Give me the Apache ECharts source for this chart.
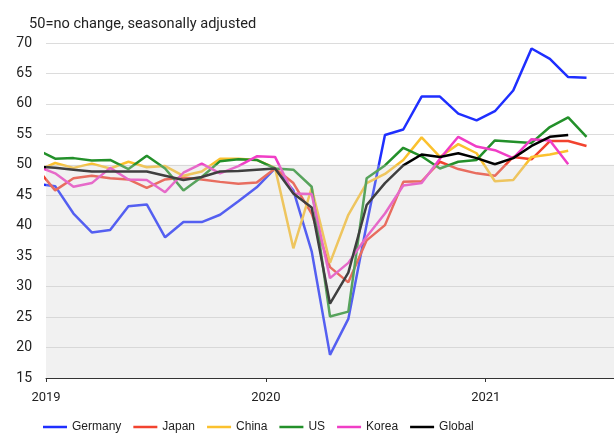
<!DOCTYPE html>
<html>
<head>
<meta charset="utf-8">
<script src="https://cdn.jsdelivr.net/npm/echarts@6/dist/echarts.min.js"></script>
<style>
  html, body { margin: 0; padding: 0; background: #fff; }
  #chart { width: 614px; height: 434px; }
</style>
</head>
<body>
<div id="chart"></div>
<script>
// months from Dec 2018 (index -1) to Jun 2021 (index 29), plotted mid-month
const startMonth = -1;
const yearLabels = ['2019', '2020', '2021'];

const germany = [46.9,
  46.5, 42.0, 38.9, 39.3, 43.2, 43.5, 38.1, 40.6, 40.6, 41.8, 44.0, 46.3,
  49.4, 45.8, 35.8, 18.8, 24.7, 40.2, 54.9, 55.8, 61.2, 61.2, 58.4, 57.3,
  58.8, 62.2, 69.1, 67.4, 64.4, 64.3];
const japan = [49.4,
  45.8, 47.8, 48.2, 47.8, 47.6, 46.2, 47.6, 47.9, 47.6, 47.2, 46.9, 47.1,
  49.4, 47.0, 42.0, 33.2, 30.7, 37.6, 40.1, 47.2, 47.3, 50.5, 49.3, 48.6,
  48.2, 51.3, 50.9, 53.9, 53.9, 53.1];
const china = [49.0,
  50.3, 49.5, 50.2, 49.4, 50.5, 49.6, 49.8, 48.2, 48.9, 51.0, 51.0, 50.8,
  49.5, 36.3, 46.2, 33.9, 41.8, 47.0, 48.5, 50.8, 54.5, 51.3, 53.4, 51.9,
  47.3, 47.5, 51.3, 51.7, 52.3, null];
const us = [52.5,
  51.0, 51.1, 50.7, 50.8, 49.3, 51.5, 49.4, 45.8, 48.0, 50.6, 50.9, 50.8,
  49.4, 49.2, 46.4, 25.1, 25.9, 47.8, 49.9, 52.8, 51.4, 49.4, 50.5, 50.8,
  54.0, 53.8, 53.6, 56.2, 57.8, 54.6];
const korea = [49.8,
  48.6, 46.4, 47.0, 49.5, 47.6, 47.5, 45.5, 48.7, 50.2, 48.6, 49.8, 51.4,
  51.3, 45.3, 45.2, 31.4, 33.9, 38.2, 42.0, 46.6, 47.0, 51.0, 54.6, 53.0,
  52.4, 51.1, 54.2, 54.0, 50.1, null];
const globalPmi = [49.7,
  49.5, 49.2, 48.9, 48.9, 48.9, 48.9, 48.2, 47.5, 48.0, 48.9, 49.0, 49.2,
  49.4, 45.3, 43.0, 27.2, 32.3, 43.4, 47.0, 49.9, 51.7, 51.3, 51.9, 51.1,
  50.1, 51.1, 53.1, 54.6, 54.9, null];

const seriesList = [
  { name: 'Germany', values: germany, color: '#1f2fff' },
  { name: 'Japan', values: japan, color: '#f2432f' },
  { name: 'China', values: china, color: '#fbc12e' },
  { name: 'US', values: us, color: '#23902a' },
  { name: 'Korea', values: korea, color: '#f03ec6' },
  { name: 'Global', values: globalPmi, color: '#000000' },
];

function toPoints(values) {
  return values.map((v, i) => [startMonth + i + 0.5, v]);
}

const chart = echarts.init(document.getElementById('chart'));
const font = 'Roboto, "Liberation Sans", sans-serif';

const series = seriesList.map((s) => ({
  name: s.name,
  type: 'line',
  data: toPoints(s.values),
  symbol: 'none',
  z: 2,
  lineStyle: { width: 2.5, color: s.color },
  itemStyle: { color: s.color },
}));

// shaded contraction zone, drawn over the lines so they look faded
series.push({
  name: 'below50',
  type: 'line',
  data: [],
  z: 5,
  silent: true,
  markArea: {
    silent: true,
    z: 10,
    itemStyle: { color: 'rgba(208,208,208,0.3)' },
    data: [[{ yAxis: 15 }, { yAxis: 50 }]],
  },
});

chart.setOption({
  animation: false,
  textStyle: { fontFamily: font },
  title: {
    text: '50=no change, seasonally adjusted',
    left: 24,
    top: 12,
    textStyle: { fontSize: 14.6, fontWeight: 'normal', color: '#222', fontFamily: font },
  },
  grid: { left: 46, right: 0, top: 43, bottom: 56 },
  legend: {
    data: seriesList.map((s) => s.name),
    left: 38,
    top: 416,
    icon: 'rect',
    itemWidth: 24,
    itemHeight: 2.5,
    itemGap: 12,
    textStyle: { fontSize: 12, color: '#222', fontFamily: '"Liberation Sans", Arial, sans-serif' },
  },
  xAxis: {
    type: 'value',
    min: 0,
    max: 31,
    interval: 12,
    splitLine: { show: false },
    axisLine: { lineStyle: { color: '#333', width: 1 } },
    axisTick: { show: true, length: 4, lineStyle: { color: '#333' } },
    axisLabel: {
      fontSize: 13,
      color: '#222',
      margin: 13,
      showMaxLabel: false,
      formatter: (v) => (v % 12 === 0 ? yearLabels[v / 12] || '' : ''),
    },
  },
  yAxis: {
    type: 'value',
    min: 15,
    max: 70,
    interval: 5,
    axisLine: { show: false },
    axisTick: { show: false },
    splitLine: { lineStyle: { color: '#dcdcdc', width: 1 } },
    axisLabel: { fontSize: 14, color: '#222', margin: 14 },
  },
  series,
});
</script>
</body>
</html>
